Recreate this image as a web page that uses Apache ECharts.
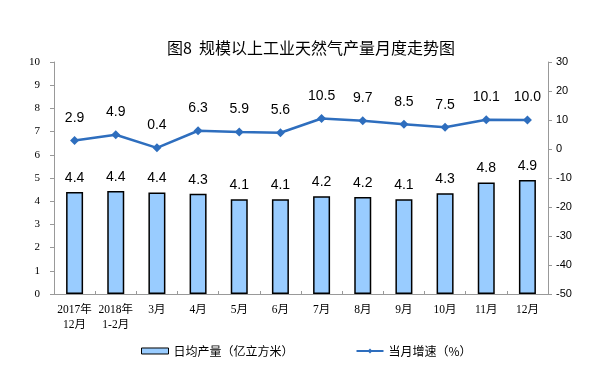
<!DOCTYPE html>
<html><head><meta charset="utf-8">
<script src="https://cdn.jsdelivr.net/npm/echarts@6/dist/echarts.min.js"></script>
<style>html,body{margin:0;padding:0;background:#fff}#c{width:592px;height:380px}</style>
</head><body><div id="c"></div>
<script>
var categories = ['2017年\n12月','2018年\n1-2月','3月','4月','5月','6月','7月','8月','9月','10月','11月','12月'];
var dailyOutput = [4.40, 4.44, 4.38, 4.32, 4.08, 4.08, 4.21, 4.18, 4.08, 4.34, 4.81, 4.91];
var growth = [2.9, 4.9, 0.4, 6.3, 5.9, 5.6, 10.5, 9.7, 8.5, 7.5, 10.1, 10.0];
var barName = '日均产量（亿立方米）';
var lineName = '当月增速（%）';
var chart = echarts.init(document.getElementById('c'));
chart.setOption({
  animation:false,
  title:{text:'图8  规模以上工业天然气产量月度走势图',left:162,top:35,
    textStyle:{fontFamily:'Noto Sans CJK SC',fontSize:16,fontWeight:'normal',color:'#000'}},
  grid:{left:54,right:44,top:62,bottom:86},
  legend:{bottom:18,itemGap:62,left:136,
    textStyle:{fontFamily:'Noto Sans CJK SC',fontSize:12,color:'#000'},
    data:[{name:barName,icon:'rect',itemStyle:{color:'#99CCFF',borderColor:'#000',borderWidth:1}},
          {name:lineName}],
    itemWidth:27,itemHeight:6},
  xAxis:{type:'category',data:categories,
    axisLine:{lineStyle:{color:'#999'}},
    axisTick:{show:true,inside:true,length:3,lineStyle:{color:'#999'}},
    axisLabel:{fontFamily:'Liberation Serif, Noto Sans CJK SC',fontSize:11.5,color:'#000',margin:8,lineHeight:15,interval:0}},
  yAxis:[{type:'value',min:0,max:10,interval:1,
      axisLine:{show:true,lineStyle:{color:'#999'}},
      axisTick:{show:true,length:4,lineStyle:{color:'#999'}},
      splitLine:{show:false},
      axisLabel:{fontFamily:'Liberation Serif',fontSize:11,color:'#000',margin:14}},
    {type:'value',min:-50,max:30,interval:10,position:'right',
      axisLine:{show:true,lineStyle:{color:'#999'}},
      axisTick:{show:true,length:4,lineStyle:{color:'#999'}},
      splitLine:{show:false},
      axisLabel:{fontFamily:'Liberation Sans',fontSize:11,color:'#000',margin:8}}],
  series:[
    {name:barName,type:'bar',data:dailyOutput,barWidth:17,yAxisIndex:0,
      itemStyle:{color:'#99CCFF',borderColor:'#000',borderWidth:1.5},
      label:{show:true,position:'top',distance:7,fontFamily:'Liberation Sans',fontSize:14,color:'#000',
        formatter:function(p){return p.value.toFixed(1);}}},
    {name:lineName,type:'line',data:growth,yAxisIndex:1,
      symbol:'diamond',symbolSize:9,
      lineStyle:{color:'#2E6EBE',width:2.5},
      itemStyle:{color:'#2E6EBE'},
      label:{show:true,position:'top',distance:11,fontFamily:'Liberation Sans',fontSize:14,color:'#000',
        formatter:function(p){return p.value.toFixed(1);}}}
  ]
});
</script></body></html>
